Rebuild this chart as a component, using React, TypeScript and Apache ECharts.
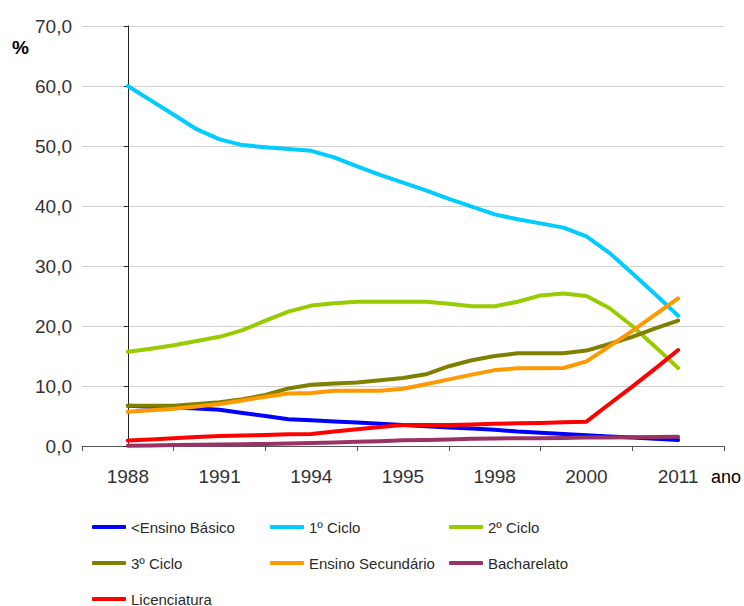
import React, { useEffect, useRef } from "react";
import * as echarts from "echarts";

const categories = ["1988", "1991", "1994", "1995", "1998", "2000", "2011"];
// readings every quarter of a category step, from 1988 (0) to 2011 (24)
const steps = Array.from({ length: 25 }, (_, i) => i);

const basico = [6.7, 6.55, 6.4, 6.25, 6.05, 5.5, 5.0, 4.45, 4.3, 4.1, 3.9, 3.7, 3.5, 3.3, 3.1, 2.9, 2.7, 2.4, 2.2, 2.0, 1.8, 1.6, 1.4, 1.2, 1.0];
const ciclo1 = [60.0, 57.6, 55.2, 52.8, 51.1, 50.15, 49.8, 49.5, 49.2, 48.1, 46.6, 45.2, 43.9, 42.6, 41.2, 39.9, 38.6, 37.8, 37.1, 36.4, 34.95, 32.2, 28.8, 25.3, 21.7];
const ciclo2 = [15.7, 16.2, 16.8, 17.5, 18.2, 19.3, 20.9, 22.4, 23.4, 23.8, 24.05, 24.05, 24.05, 24.05, 23.7, 23.3, 23.3, 24.05, 25.1, 25.4, 25.0, 23.0, 20.0, 16.55, 13.0];
const ciclo3 = [6.7, 6.7, 6.7, 7.0, 7.3, 7.8, 8.5, 9.6, 10.2, 10.4, 10.6, 10.95, 11.35, 11.95, 13.3, 14.3, 15.0, 15.45, 15.45, 15.45, 15.9, 17.0, 18.2, 19.6, 20.9];
const secundario = [5.7, 5.95, 6.2, 6.6, 7.0, 7.6, 8.2, 8.75, 8.85, 9.2, 9.2, 9.2, 9.55, 10.3, 11.1, 11.9, 12.65, 12.95, 12.95, 13.0, 14.1, 16.6, 19.2, 21.9, 24.6];
const bacharelato = [0.05, 0.1, 0.15, 0.2, 0.25, 0.3, 0.35, 0.4, 0.5, 0.6, 0.7, 0.8, 0.95, 1.0, 1.1, 1.2, 1.25, 1.3, 1.3, 1.35, 1.4, 1.4, 1.45, 1.5, 1.55];
const licenciatura = [0.9, 1.1, 1.3, 1.5, 1.65, 1.75, 1.85, 1.95, 2.0, 2.4, 2.8, 3.15, 3.5, 3.5, 3.5, 3.6, 3.7, 3.8, 3.85, 3.95, 4.05, 7.0, 9.9, 12.9, 16.0];

const seriesDefs = [
  { name: "<Ensino Básico", data: basico, color: "#0000FF" },
  { name: "1º Ciclo", data: ciclo1, color: "#00CCFF" },
  { name: "2º Ciclo", data: ciclo2, color: "#99CC00" },
  { name: "3º Ciclo", data: ciclo3, color: "#808000" },
  { name: "Ensino Secundário", data: secundario, color: "#FF9900" },
  { name: "Bacharelato", data: bacharelato, color: "#993366" },
  { name: "Licenciatura", data: licenciatura, color: "#FF0000" },
];

// legend grid: 3 columns, rows in reading order
const legendCols = [92, 270, 449];
const legendRows = [527, 563, 599];

const FONT = "'Liberation Sans', Arial, sans-serif";

export default function App() {
  const ref = useRef<HTMLDivElement>(null);
  useEffect(() => {
    document.body.style.margin = "0";
    const chart = echarts.init(ref.current!, null, { renderer: "svg" });
    const legends = seriesDefs.map((s, i) => ({
      orient: "horizontal" as const,
      left: legendCols[i % 3],
      top: legendRows[Math.floor(i / 3)] - 8,
      padding: 0,
      itemWidth: 34,
      itemHeight: 4,
      icon: "roundRect",
      textStyle: { fontFamily: FONT, fontSize: 15, color: "#2a2a2a", lineHeight: 16 },
      selectedMode: false,
      data: [s.name],
    }));
    chart.setOption({
      animation: false,
      grid: { left: 82, right: 20, top: 26, bottom: 160, containLabel: false },
      legend: legends,
      xAxis: [
        {
          type: "category",
          data: categories,
          boundaryGap: true,
          axisLine: { show: true, lineStyle: { color: "#555", width: 1 } },
          axisTick: { show: true, length: 5, lineStyle: { color: "#555" } },
          axisLabel: { fontFamily: FONT, fontSize: 19, color: "#333", margin: 21 },
          splitLine: { show: false },
        },
        {
          type: "value",
          min: -2,
          max: 26,
          show: false,
          splitLine: { show: false },
        },
      ],
      yAxis: {
        type: "value",
        min: 0,
        max: 70,
        interval: 10,
        axisLine: { show: true, lineStyle: { color: "#222", width: 1 } },
        axisTick: { show: true, length: 4, lineStyle: { color: "#222" } },
        axisLabel: {
          fontFamily: FONT,
          fontSize: 19,
          color: "#333",
          margin: 10,
          formatter: (v: number) => v.toFixed(1).replace(".", ","),
        },
        splitLine: { show: true, lineStyle: { color: "#d0d0d0", width: 1 } },
      },
      series: seriesDefs.map((s) => ({
        name: s.name,
        type: "line",
        xAxisIndex: 1,
        data: steps.map((x, i) => [x, s.data[i]]),
        showSymbol: false,
        symbol: "none",
        color: s.color,
        itemStyle: { color: s.color },
        lineStyle: { color: s.color, width: 4, cap: "round", join: "round" },
      })),
      graphic: [
        {
          type: "text",
          left: 12,
          top: 38,
          style: { text: "%", font: `bold 19px ${FONT}`, fill: "#000" },
        },
        {
          type: "text",
          left: 711,
          top: 468,
          style: { text: "ano", font: `18px ${FONT}`, fill: "#000" },
        },
      ],
    });
    return () => chart.dispose();
  }, []);
  return <div ref={ref} style={{ width: 744, height: 606 }} />;
}
